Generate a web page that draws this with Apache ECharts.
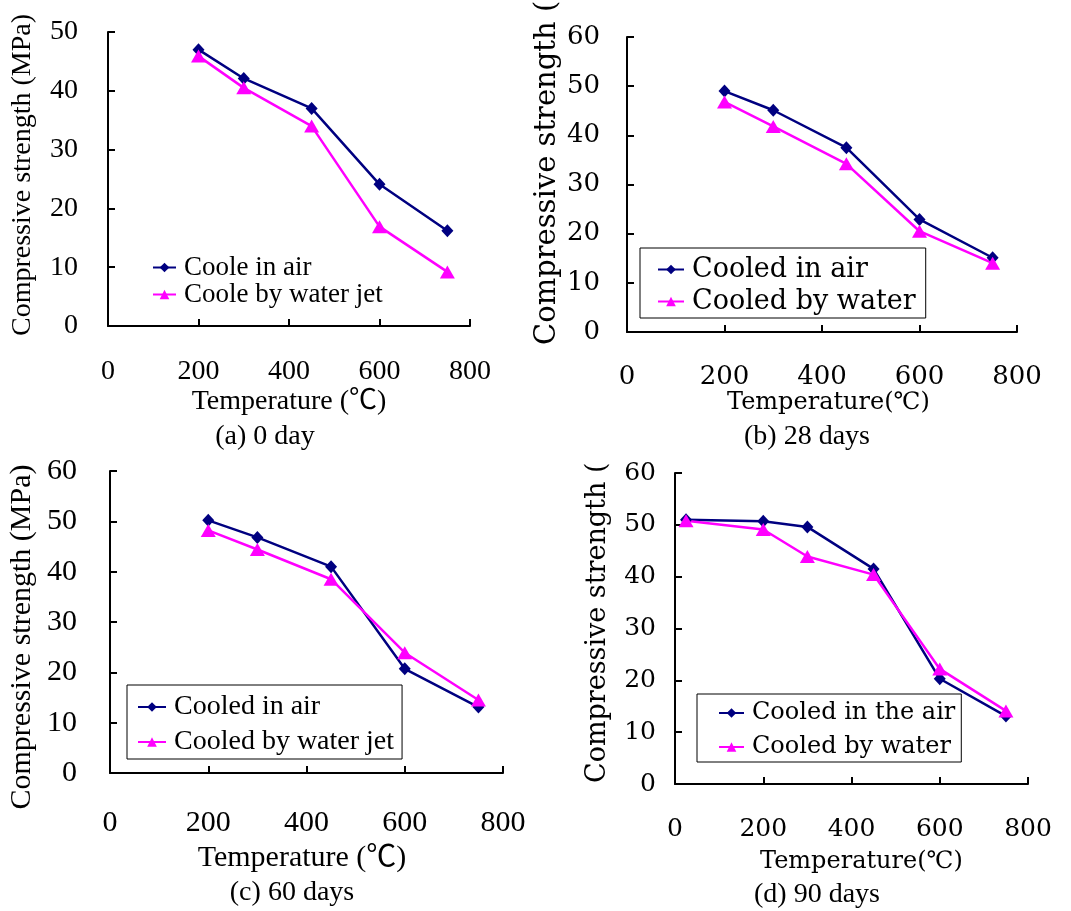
<!DOCTYPE html>
<html>
<head>
<meta charset="utf-8">
<script src="https://cdn.jsdelivr.net/npm/echarts@6/dist/echarts.min.js"></script>
<style>
  html, body { margin: 0; padding: 0; background: #fff; }
  #chart { width: 1071px; height: 911px; }
</style>
</head>
<body>
<div id="chart"></div>
<script>
const xTicks = [0, 200, 400, 600, 800];

const tempsA = [200, 300, 450, 600, 750];
const airA = [47.0, 42.1, 37.0, 24.1, 16.2];
const waterA = [45.9, 40.5, 34.0, 16.9, 9.2];

const tempsB = [200, 300, 450, 600, 750];
const airB = [49.0, 45.1, 37.5, 22.9, 15.1];
const waterB = [46.8, 41.8, 34.2, 20.5, 14.0];

const tempsC = [200, 300, 450, 600, 750];
const airC = [50.2, 46.8, 41.0, 20.7, 13.1];
const waterC = [48.2, 44.4, 38.5, 23.9, 14.5];

const tempsD = [25, 200, 300, 450, 600, 750];
const airD = [51.0, 50.7, 49.6, 41.5, 20.3, 13.1];
const waterD = [50.8, 49.1, 43.9, 40.4, 22.2, 14.1];

const yMax = [50, 60, 60, 60];
const legendNames = [
  ['Coole in air', 'Coole by water jet'],
  ['Cooled in air', 'Cooled by water'],
  ['Cooled in air', 'Cooled by water jet'],
  ['Cooled in the air', 'Cooled by water']
];
const captions = ['(a) 0 day', '(b) 28 days', '(c) 60 days', '(d) 90 days'];

const TIMES = '"Liberation Serif", "Times New Roman", "Noto Sans CJK SC", serif';
const WIDE = '"DejaVu Serif", "Noto Sans CJK SC", serif';

const pairs = (xs, ys) => xs.map((x, i) => [x, ys[i]]);

const grids = [
  { left: 108, top: 32, width: 362, height: 294 },
  { left: 627, top: 37, width: 390, height: 295 },
  { left: 110, top: 471, width: 393, height: 302 },
  { left: 675, top: 473, width: 353, height: 311 }
];
// per panel: font, tick size, x label margin, y label margin
const looks = [
  { font: TIMES, tick: 28, xm: 32, ym: 30 },
  { font: WIDE, tick: 26, xm: 32, ym: 27 },
  { font: TIMES, tick: 30, xm: 35, ym: 33 },
  { font: WIDE, tick: 25, xm: 33, ym: 19 }
];

const axisLine = { show: true, lineStyle: { color: '#000', width: 2 } };
const axisTick = { show: true, inside: true, length: 7, lineStyle: { color: '#000', width: 2 } };

const xAxis = grids.map((g, i) => ({
  type: 'value', gridIndex: i, min: xTicks[0], max: xTicks[xTicks.length - 1], interval: 200,
  axisLine, axisTick, splitLine: { show: false },
  axisLabel: { color: '#000', fontFamily: looks[i].font, fontSize: looks[i].tick, margin: looks[i].xm, showMaxLabel: true }
}));
const yAxis = grids.map((g, i) => ({
  type: 'value', gridIndex: i, min: 0, max: yMax[i], interval: 10,
  axisLine, axisTick, splitLine: { show: false },
  axisLabel: { color: '#000', fontFamily: looks[i].font, fontSize: looks[i].tick, margin: looks[i].ym }
}));

function mk(name, data, idx, isAir) {
  const c = isAir ? '#000080' : '#ff00ff';
  return {
    name, type: 'line', xAxisIndex: idx, yAxisIndex: idx, data,
    symbol: isAir ? 'diamond' : 'triangle',
    symbolSize: isAir ? [12, 13] : [15, 13],
    color: c,
    lineStyle: { width: 2.5, color: c },
    itemStyle: { color: c }
  };
}

const series = [
  mk(legendNames[0][0], pairs(tempsA, airA), 0, true),
  mk(legendNames[0][1], pairs(tempsA, waterA), 0, false),
  mk(legendNames[1][0], pairs(tempsB, airB), 1, true),
  mk(legendNames[1][1], pairs(tempsB, waterB), 1, false),
  mk(legendNames[2][0], pairs(tempsC, airC), 2, true),
  mk(legendNames[2][1], pairs(tempsC, waterC), 2, false),
  mk(legendNames[3][0], pairs(tempsD, airD), 3, true),
  mk(legendNames[3][1], pairs(tempsD, waterD), 3, false)
];

const legend = [
  { left: 152, top: 254, padding: 0, itemGap: 0, itemWidth: 23, itemHeight: 12,
    textStyle: { fontFamily: TIMES, fontSize: 27, lineHeight: 25, color: '#000', padding: [0, 0, 0, 3] } },
  { left: 640, top: 248, padding: [8, 10, 3, 17], itemGap: 5, itemWidth: 26, itemHeight: 12,
    borderColor: '#000', borderWidth: 1,
    textStyle: { fontFamily: WIDE, fontSize: 27, lineHeight: 27, color: '#000', padding: [0, 0, 0, 3] } },
  { left: 127, top: 685, padding: [8, 8, 3, 10], itemGap: 7, itemWidth: 28, itemHeight: 12,
    borderColor: '#000', borderWidth: 1,
    textStyle: { fontFamily: TIMES, fontSize: 28, lineHeight: 28, color: '#000', padding: [0, 0, 0, 3] } },
  { left: 697, top: 694, padding: [7, 6, 3, 21], itemGap: 10, itemWidth: 25, itemHeight: 12,
    borderColor: '#000', borderWidth: 1,
    textStyle: { fontFamily: WIDE, fontSize: 24, lineHeight: 24, color: '#000', padding: [0, 0, 0, 3] } }
].map((l, i) => Object.assign({ orient: 'vertical', data: legendNames[i], selectedMode: false }, l));

function txt(text, x, y, size, family, align) {
  return {
    type: 'text', x, y,
    style: { text, fontSize: size, fontFamily: family, fill: '#000', align: align || 'center', verticalAlign: 'middle' }
  };
}
function vtxt(text, x, y, size, family, align) {
  return Object.assign(txt(text, x, y, size, family, align), { rotation: Math.PI / 2 });
}

const graphic = [
  // y axis titles
  vtxt('Compressive strength (MPa)', 23, 175, 28, TIMES),
  vtxt('Compressive strength (', 547, 345, 29, WIDE, 'left'),
  vtxt('Compressive strength (MPa)', 22, 637, 30, TIMES),
  vtxt('Compressive strength (', 598, 783, 27, WIDE, 'left'),
  // x axis titles
  txt('Temperature (℃)', 289, 402, 28, TIMES),
  txt('Temperature(℃)', 727, 403, 24, WIDE, 'left'),
  txt('Temperature (℃)', 302, 858, 30, TIMES),
  txt('Temperature(℃)', 760, 862, 24, WIDE, 'left'),
  // captions
  txt(captions[0], 265, 437, 28, TIMES),
  txt(captions[1], 807, 437, 28, TIMES),
  txt(captions[2], 292, 893, 28, TIMES),
  txt(captions[3], 817, 895, 28, TIMES)
];

const chart = echarts.init(document.getElementById('chart'), null, { renderer: 'canvas' });
chart.setOption({
  backgroundColor: '#fff',
  animation: false,
  grid: grids,
  xAxis,
  yAxis,
  legend,
  series,
  graphic
});
</script>
</body>
</html>
